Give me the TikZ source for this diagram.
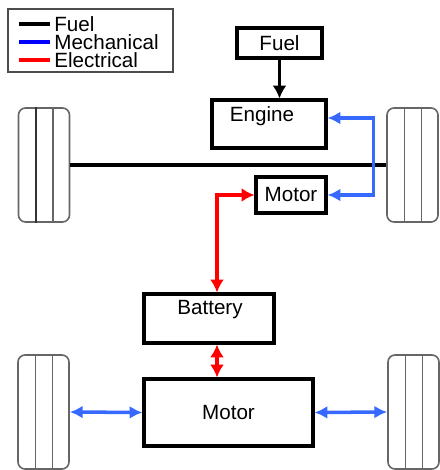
\documentclass[tikz,border=0pt]{standalone}
\usepackage{fontspec}
\setmainfont{Liberation Sans}
\usetikzlibrary{arrows.meta,calc}
\definecolor{mechblue}{RGB}{55,105,255}

\begin{document}
\begin{tikzpicture}[x=0.03cm,y=-0.03cm,
  font=\fontsize{17.6pt}{20pt}\selectfont,
  box/.style={draw,line width=2.6pt,inner sep=0pt},
  wheel/.style={draw=black!60,line width=1.4pt,rounded corners=6,inner sep=0pt,minimum width=51*0.03cm,minimum height=114*0.03cm},
  fuel/.style={line width=3.2pt,-{Latex[length=11pt,width=12pt]}},
  mech/.style={mechblue,line width=3pt,{Latex[length=11pt,width=11pt]}-{Latex[length=11pt,width=11pt]}},
  elec/.style={red,line width=3pt,{Latex[length=11pt,width=12pt]}-{Latex[length=11pt,width=12pt]}},
  key/.style={line width=3.4pt},
  keytxt/.style={right,black,inner ysep=0pt,inner xsep=2pt}]
\useasboundingbox (0,0) rectangle (439,470);
\draw[black!70,line width=1.6pt] (8,9) rectangle (173,72);
\draw[key,black] (19,24) -- (50,24) node[keytxt] (kfuel) {Fuel};
\draw[key,blue] (19,42) -- (50,42) node[keytxt] (kmech) {Mechanical};
\draw[key,red] (19,60) -- (50,60) node[keytxt] (kelec) {Electrical};
\node[box,minimum width=85*0.03cm,minimum height=30*0.03cm] (fuel) at (279.5,43) {Fuel};
\node[box,minimum width=114*0.03cm,minimum height=48*0.03cm] (engine) at (269,124) {};
\node (enginetxt) at (262,116) {Engine};
\node[box,minimum width=70*0.03cm,minimum height=36*0.03cm] (motorA) at (291,195) {Motor};
\node[box,minimum width=130*0.03cm,minimum height=49*0.03cm] (battery) at (209,318.5) {};
\node (batterytxt) at (210,310) {Battery};
\node[box,minimum width=169*0.03cm,minimum height=67*0.03cm] (motorB) at (228.5,412.5) {Motor};
\node[wheel] (wheelTL) at (44,165) {};
\node[wheel] (wheelTR) at (412.5,165) {};
\node[wheel] (wheelBL) at (43.5,412) {};
\node[wheel] (wheelBR) at (413.5,412) {};
\foreach \w/\c in {wheelTL/black!80,wheelTR/black!60,wheelBL/black!60,wheelBR/black!60}{
  \draw[\c,line width=1.3pt] ($(\w.north west)!0.35!(\w.north east)$) -- ($(\w.south west)!0.35!(\w.south east)$);
  \draw[black!60,line width=1.3pt] ($(\w.north west)!0.67!(\w.north east)$) -- ($(\w.south west)!0.67!(\w.south east)$);
}
\draw[line width=3.6pt] (wheelTL.east) -- (wheelTR.west);
\draw[fuel] (fuel.south) -- (fuel.south |- engine.north);
\draw[mech] ($(engine.east)+(0,-6)$) -- ++(46,0) |- (motorA.east);
\coordinate (battop) at ($(battery.north)+(8,0)$);
\coordinate (batbot) at ($(battery.south)+(8,0)$);
\draw[elec] (battop) |- (motorA.west);
\draw[elec] (batbot) -- (batbot |- motorB.north);
\draw[mech] (wheelBL.east) -- (motorB.west);
\draw[mech] (motorB.east) -- (wheelBR.west);
\end{tikzpicture}
\end{document}
